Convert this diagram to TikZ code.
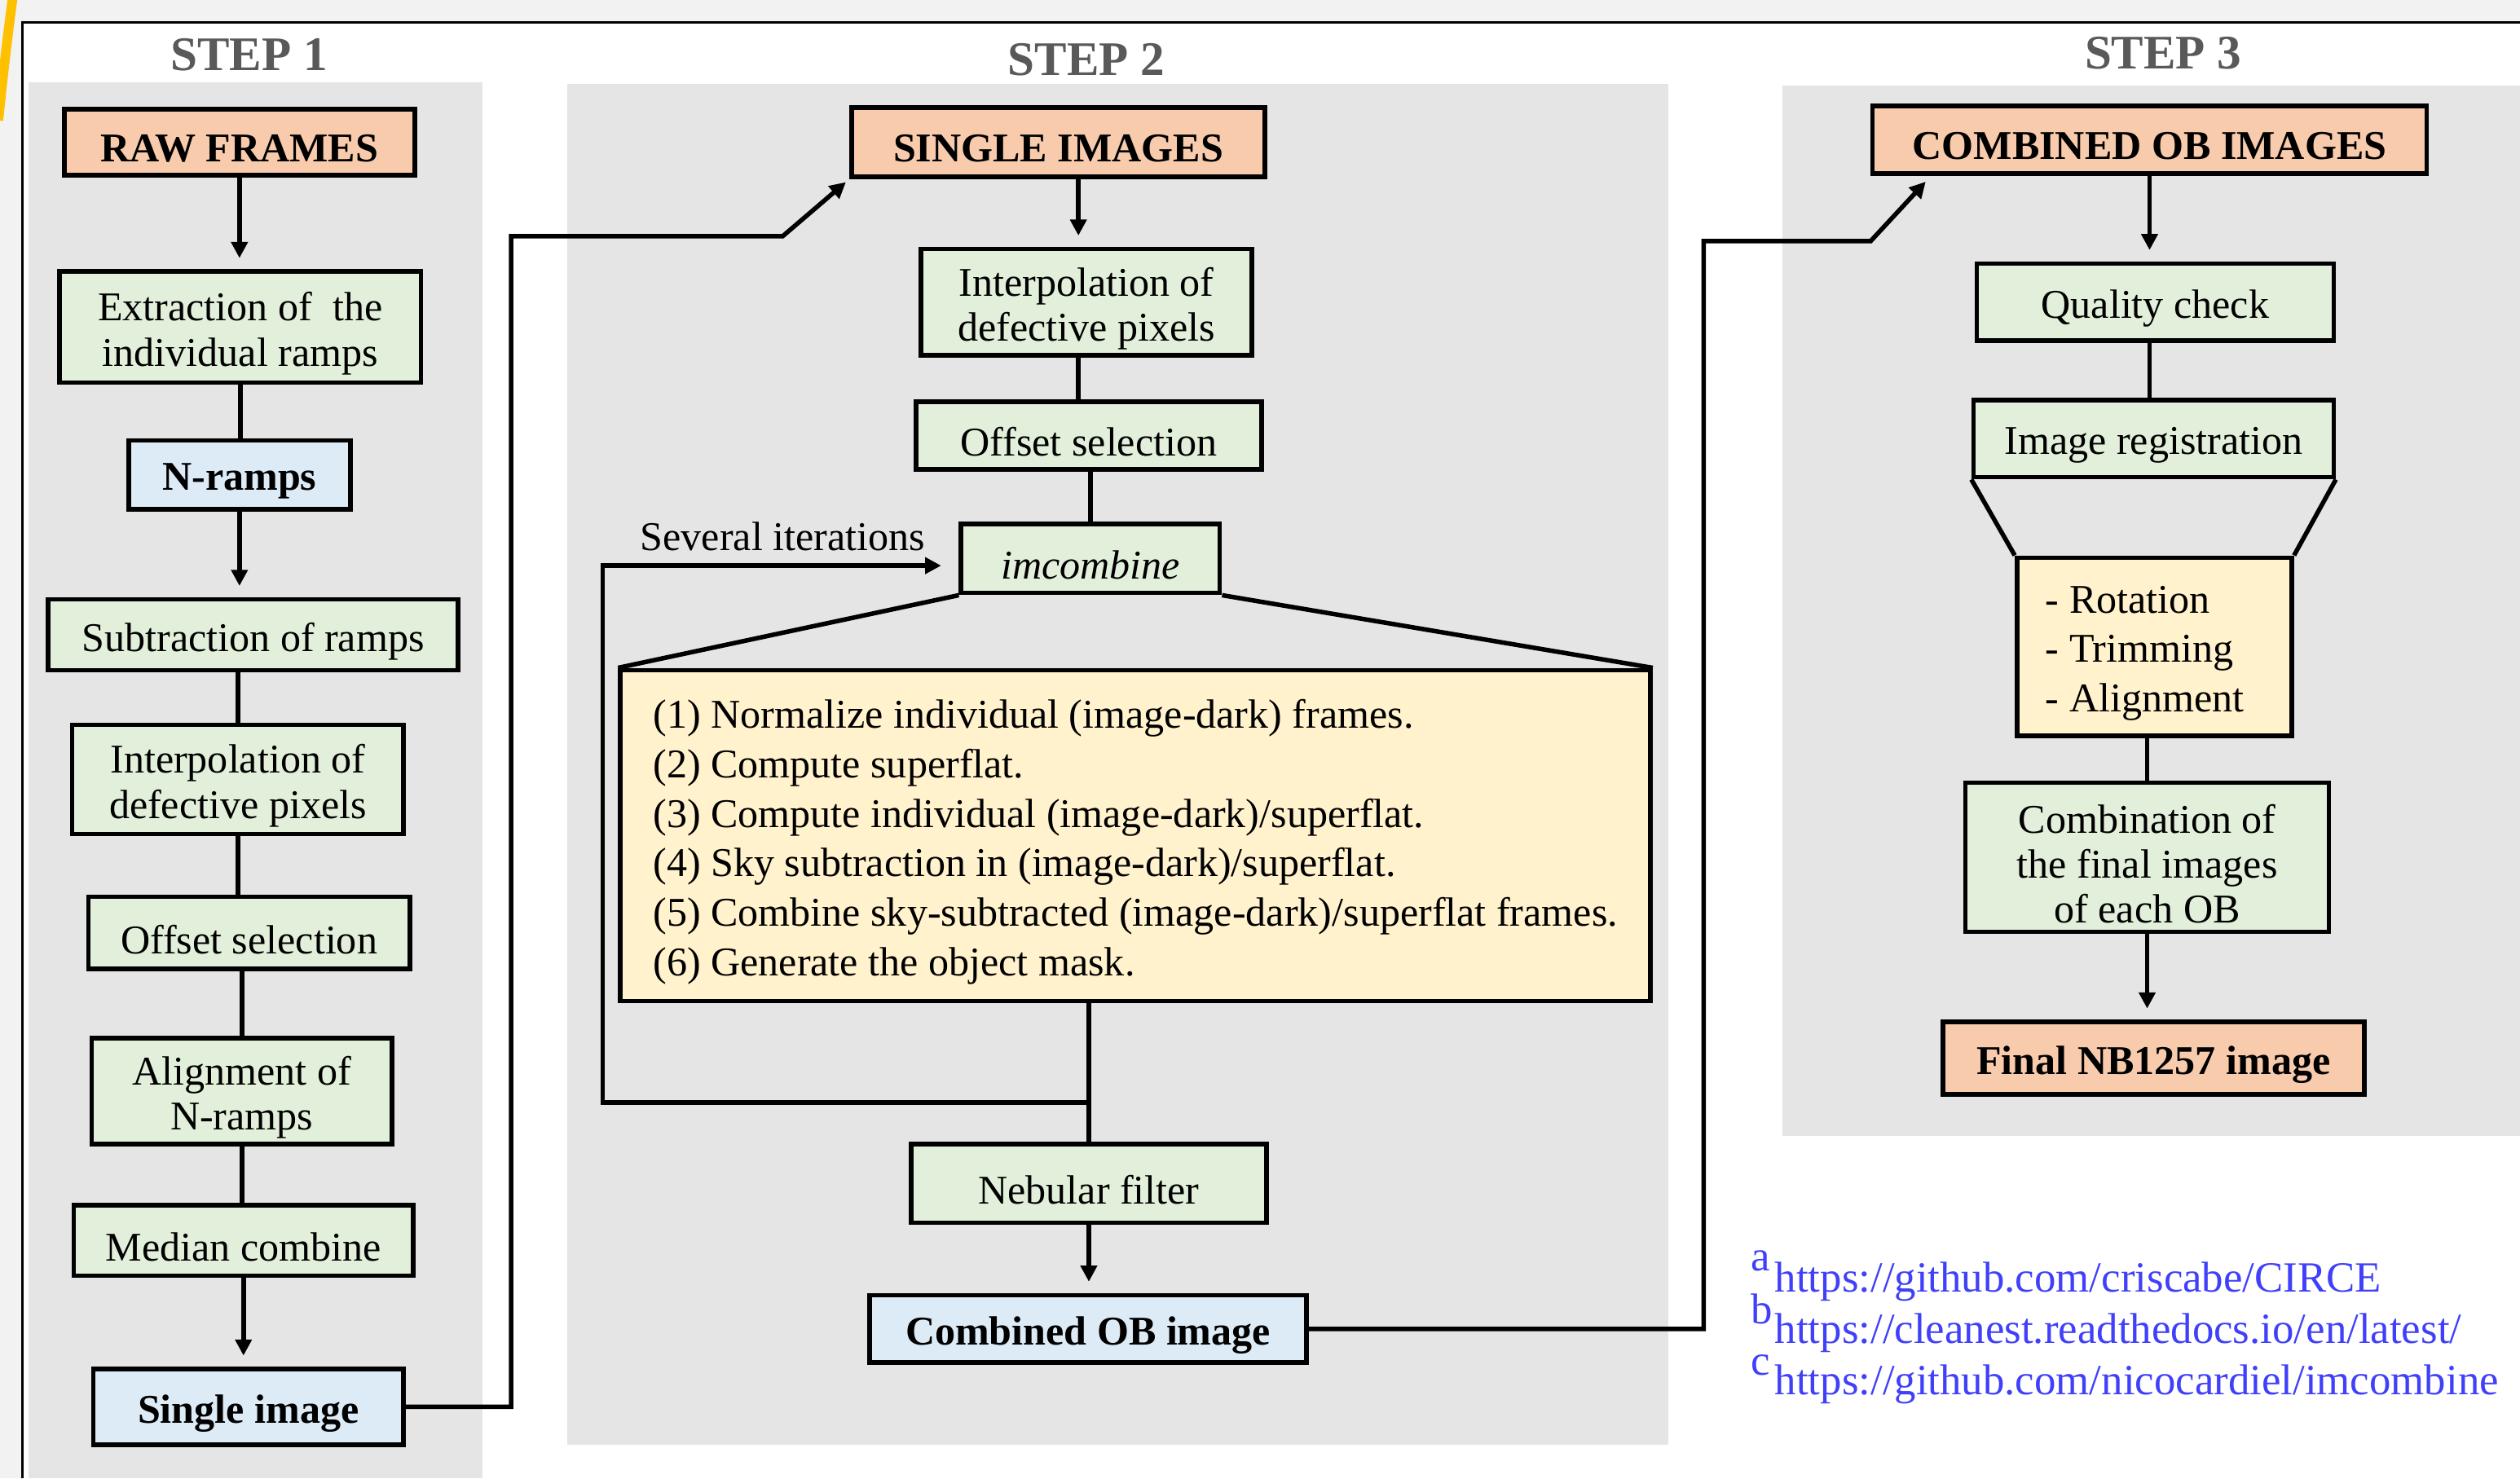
\documentclass[tikz,border=0pt]{standalone}
\usepackage{fontspec}
\setmainfont{Liberation Serif}
\usetikzlibrary{arrows.meta}
\definecolor{bgout}{HTML}{F2F2F2}
\definecolor{panel}{HTML}{E5E5E5}
\definecolor{salmon}{HTML}{F8CBAD}
\definecolor{lgreen}{HTML}{E2EFDA}
\definecolor{lblue}{HTML}{DDEBF7}
\definecolor{lyellow}{HTML}{FFF2CC}
\definecolor{steptxt}{HTML}{595959}
\definecolor{urlblue}{RGB}{64,64,250}
\definecolor{arcyellow}{HTML}{FFC000}

% name, x1, y1, x2, y2, box style, text style, text
\newcommand\mybox[8]{%
 \pgfmathsetmacro\bxcx{(#2+#4)/2}%
 \pgfmathsetmacro\bxcy{(#3+#5)/2}%
 \pgfmathsetmacro\bxw{(#4-#2)*0.5}%
 \pgfmathsetmacro\bxh{(#5-#3)*0.5}%
 \node[#6, minimum width=\bxw pt, minimum height=\bxh pt] (#1) at (\bxcx,\bxcy) {};
 \node[#7] (#1t) at ([yshift=-2pt]#1.center) {#8};}

\begin{document}
\begin{tikzpicture}[x=0.5pt,y=-0.5pt,
  box/.style={draw=black, line width=1.4pt, inner sep=0pt},
  gbox/.style={box, fill=lgreen},
  sbox/.style={box, fill=salmon},
  bbox/.style={box, fill=lblue},
  ybox/.style={box, fill=lyellow},
  txt/.style={inner sep=0pt, align=center, font=\fontsize{12.7}{14}\selectfont},
  btxt/.style={inner sep=0pt, align=center, font=\fontsize{12.7}{14}\selectfont\bfseries},
  ytxt/.style={inner sep=0pt, align=left, font=\fontsize{12.7}{15.4}\selectfont},
  conn/.style={line width=1.4pt},
  arr/.style={conn, -{Triangle[length=5pt,width=5pt]}, shorten >=3.5pt},
  steplbl/.style={font=\fontsize{15}{18}\selectfont\bfseries, text=steptxt},
  urltxt/.style={font=\fontsize{13.4}{16}\selectfont, text=urlblue, anchor=base west, inner sep=0pt},
]
\useasboundingbox (0,0) rectangle (1568,920);
% background and frame
\fill[bgout] (0,0) rectangle (1568,920);
\fill[white] (14,14) rectangle (1568,920);
\draw[line width=0.8pt] (14,920) -- (14,14) -- (1568,14);
\draw[arcyellow, line width=3pt] (8,-2) .. controls (5,20) and (2,45) .. (-1,75);
% panels
\fill[panel] (18,51) rectangle (300,920);
\fill[panel] (353,52) rectangle (1038,899);
\fill[panel] (1109,53) rectangle (1568,707);
% step labels
\node[steplbl] (s1) at (155,34) {STEP 1};
\node[steplbl] (s2) at (676,37) {STEP 2};
\node[steplbl] (s3) at (1346,33) {STEP 3};

% STEP 1 boxes
\mybox{raw}{40}{68}{258}{109}{sbox}{btxt}{RAW FRAMES}
\mybox{ext}{37}{169}{262}{238}{gbox}{txt}{Extraction of~ the\\individual ramps}
\mybox{nr}{80}{274}{218}{317}{bbox}{btxt}{N-ramps}
\mybox{sub}{30}{373}{285}{417}{gbox}{txt}{Subtraction of ramps}
\mybox{int1}{45}{451}{251}{519}{gbox}{txt}{Interpolation of\\defective pixels}
\mybox{off1}{55}{558}{255}{603}{gbox}{txt}{Offset selection}
\mybox{ali}{57}{646}{244}{712}{gbox}{txt}{Alignment of\\N-ramps}
\mybox{med}{46}{750}{257}{794}{gbox}{txt}{Median combine}
\mybox{sing}{58}{852}{251}{899}{bbox}{btxt}{Single image}

% STEP 2 boxes
\mybox{si}{530}{67}{787}{110}{sbox}{btxt}{SINGLE IMAGES}
\mybox{int2}{573}{155}{779}{221}{gbox}{txt}{Interpolation of\\defective pixels}
\mybox{off2}{570}{250}{785}{292}{gbox}{txt}{Offset selection}
\mybox{imc}{598}{326}{759}{369}{gbox}{txt}{\textit{imcombine}}
\mybox{yel}{386}{417}{1027}{623}{ybox}{ytxt}{(1) Normalize individual (image-dark) frames.\\(2) Compute superflat.\\(3) Compute individual (image-dark)/superflat.\\(4) Sky subtraction in (image-dark)/superflat.\\(5) Combine sky-subtracted (image-dark)/superflat frames.\\(6) Generate the object mask.}
\mybox{neb}{567}{712}{788}{761}{gbox}{txt}{Nebular filter}
\mybox{cob}{541}{806}{813}{848}{bbox}{btxt}{Combined OB image}
\node[font=\fontsize{12.7}{14}\selectfont] (sev) at (487,334) {Several iterations};

% STEP 3 boxes
\mybox{coi}{1165}{66}{1510}{108}{sbox}{btxt}{COMBINED OB IMAGES}
\mybox{qc}{1230}{164}{1452}{212}{gbox}{txt}{Quality check}
\mybox{ir}{1228}{249}{1452}{297}{gbox}{txt}{Image registration}
\mybox{ry}{1255}{347}{1426}{458}{ybox}{ytxt, xshift=-3pt}{- Rotation\\- Trimming\\- Alignment}
\mybox{comb}{1223}{487}{1449}{580}{gbox}{txt}{Combination of\\the final images\\of each OB}
\mybox{fin}{1209}{636}{1471}{681}{sbox}{btxt}{Final NB1257 image}

% STEP 1 connectors
\draw[arr] (raw.south) -- (raw.south |- ext.north);
\draw[conn] (ext.south) -- (ext.south |- nr.north);
\draw[arr] (nr.south) -- (nr.south |- sub.north);
\draw[conn] (int1.north |- sub.south) -- (int1.north);
\draw[conn] (int1.south) -- (int1.south |- off1.north);
\draw[conn] (ali.north |- off1.south) -- (ali.north);
\draw[conn] (ali.south) -- (ali.south |- med.north);
\draw[arr] (med.south) -- (med.south |- sing.north);
% step 1 -> step 2
\coordinate (b1) at (318,147);
\coordinate (b2) at (487,147);
\draw[arr, shorten >=1.5pt] (sing.east) -| (b1) -- (b2) -- (si.south west);

% STEP 2 connectors
\coordinate (sx) at ([xshift=-2.5pt]int2.north);
\coordinate (sy) at ([xshift=-2.5pt]int2.south);
\draw[arr] (sx |- si.south) -- (sx);
\draw[conn] (sy) -- (sy |- off2.north);
\draw[conn] (imc.north |- off2.south) -- (imc.north);
\draw[conn] (imc.south west) -- (yel.north west);
\draw[conn] (imc.south east) -- (yel.north east);
\draw[conn] (neb.north |- yel.south) -- (neb.north);
\coordinate (j) at (678,686);
\coordinate (lp) at (375,686);
\coordinate (lq) at (375,352);
\draw[arr, shorten >=5.5pt] (j) -- (lp) -- (lq) -- (lq -| imc.west);
\draw[arr] (neb.south) -- (neb.south |- cob.north);
% step 2 -> step 3
\coordinate (c1) at (1060,150);
\coordinate (c2) at (1164,150);
\coordinate (c3) at ([xshift=19pt]coi.south west);
\draw[arr, shorten >=2.5pt] (cob.east) -| (c1) -- (c2) -- (c3);

% STEP 3 connectors
\draw[arr] (coi.south) -- (coi.south |- qc.north);
\draw[conn] (coi.south |- qc.south) -- (coi.south |- ir.north);
\draw[conn] (ir.south west) -- (ry.north west);
\draw[conn] (ir.south east) -- (ry.north east);
\draw[conn] (comb.north |- ry.south) -- (comb.north);
\draw[arr] (comb.south) -- (comb.south |- fin.north);

% URLs
\node[urltxt] (ua) at (1089,791) {a};
\node[urltxt] (u1) at (1104,804) {https://github.com/criscabe/CIRCE};
\node[urltxt] (ub) at (1089,824) {b};
\node[urltxt] (u2) at (1104,836) {https://cleanest.readthedocs.io/en/latest/};
\node[urltxt] (uc) at (1089,856) {c};
\node[urltxt] (u3) at (1104,868) {https://github.com/nicocardiel/imcombine};
\end{tikzpicture}
\end{document}
